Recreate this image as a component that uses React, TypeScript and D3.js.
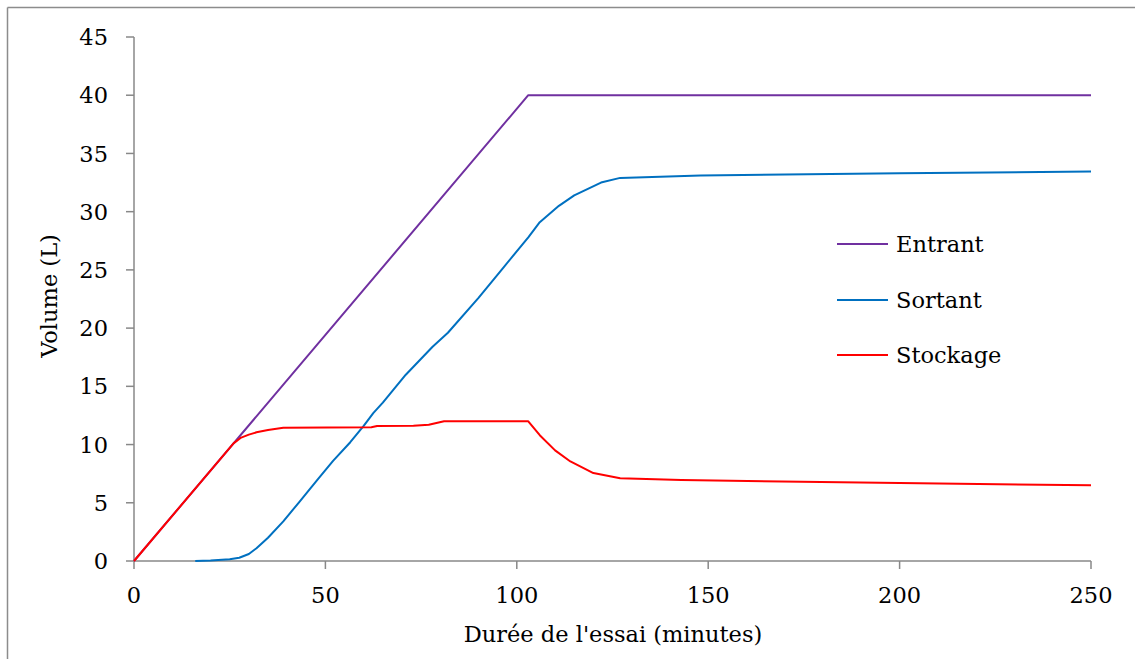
import React from "react";
import * as d3 from "d3";

const entrantT = [0, 103, 250];
const entrantV = [0, 40, 40];

const sortantT = [16, 20, 25, 27.5, 30, 32, 35, 39, 43, 48, 52, 56.5, 60, 62.5, 65, 71, 78, 82, 90, 96.5, 103, 106, 111, 115, 122, 127, 148, 200, 250];
const sortantV = [0, 0.05, 0.15, 0.28, 0.6, 1.1, 2.0, 3.4, 5.0, 7.0, 8.6, 10.2, 11.6, 12.7, 13.6, 16.0, 18.4, 19.6, 22.6, 25.2, 27.8, 29.1, 30.5, 31.4, 32.5, 32.9, 33.1, 33.3, 33.45];

const stockageT = [0, 26, 28, 30, 32, 35, 39, 62, 63.5, 73, 77, 79, 81, 103, 106, 110, 114, 120, 127, 143, 200, 250];
const stockageV = [0, 10.1, 10.6, 10.85, 11.05, 11.25, 11.45, 11.48, 11.6, 11.62, 11.7, 11.85, 12.0, 12.0, 10.8, 9.5, 8.55, 7.55, 7.1, 6.95, 6.7, 6.5];

const xTicks = [0, 50, 100, 150, 200, 250];
const yTicks = [0, 5, 10, 15, 20, 25, 30, 35, 40, 45];

const seriesNames = ["Entrant", "Sortant", "Stockage"];
const seriesColors = ["#7030A0", "#0070C0", "#FF0000"];

const xTitle = "Durée de l'essai (minutes)";
const yTitle = "Volume (L)";

export default function App() {
  const W = 1135, H = 659;
  const x = d3.scaleLinear().domain([0, 250]).range([134, 1091]);
  const y = d3.scaleLinear().domain([0, 45]).range([561, 37]);
  const line = d3.line<[number, number]>().x(d => x(d[0])).y(d => y(d[1]));
  const series = [
    entrantT.map((t, i) => [t, entrantV[i]] as [number, number]),
    sortantT.map((t, i) => [t, sortantV[i]] as [number, number]),
    stockageT.map((t, i) => [t, stockageV[i]] as [number, number]),
  ];
  const font = "'DejaVu Serif', serif";
  const axisColor = "#888888";
  const legendY = [244, 300, 355];
  const fs = 22.5;
  return (
    <svg width={W} height={H} style={{ position: "absolute", left: 0, top: 0, background: "#fff" }} fontFamily={font}>
      <rect x={0} y={0} width={W} height={H} fill="#fff" />
      <line x1={7.5} y1={7.5} x2={W} y2={7.5} stroke="#8c8c8c" strokeWidth={1.5} />
      <line x1={7.5} y1={7.5} x2={7.5} y2={H} stroke="#8c8c8c" strokeWidth={1.5} />
      {/* y axis */}
      <line x1={x(0)} y1={y(45)} x2={x(0)} y2={y(0)} stroke={axisColor} strokeWidth={1.5} />
      {yTicks.map(v => (
        <g key={"y" + v}>
          <line x1={x(0) - 8} x2={x(0)} y1={y(v)} y2={y(v)} stroke={axisColor} strokeWidth={1.5} />
          <text x={108} y={y(v)} dy="0.36em" textAnchor="end" fontSize={fs} fill="#000">{v}</text>
        </g>
      ))}
      {/* x axis */}
      <line x1={x(0)} y1={y(0)} x2={x(250)} y2={y(0)} stroke={axisColor} strokeWidth={1.5} />
      {xTicks.map(v => (
        <g key={"x" + v}>
          <line x1={x(v)} x2={x(v)} y1={y(0)} y2={y(0) + 8} stroke={axisColor} strokeWidth={1.5} />
          <text x={x(v)} y={603} textAnchor="middle" fontSize={fs} fill="#000">{v}</text>
        </g>
      ))}
      <text x={613} y={642} textAnchor="middle" fontSize={fs} fill="#000">{xTitle}</text>
      <text transform={`translate(57,296) rotate(-90)`} textAnchor="middle" fontSize={fs} fill="#000">{yTitle}</text>
      {series.map((s, i) => (
        <path key={i} d={line(s) || ""} fill="none" stroke={seriesColors[i]} strokeWidth={2} strokeLinejoin="round" />
      ))}
      {seriesNames.map((n, i) => (
        <g key={n}>
          <line x1={837} x2={888} y1={legendY[i]} y2={legendY[i]} stroke={seriesColors[i]} strokeWidth={2} />
          <text x={896} y={legendY[i]} dy="0.36em" fontSize={fs} fill="#000">{n}</text>
        </g>
      ))}
    </svg>
  );
}
